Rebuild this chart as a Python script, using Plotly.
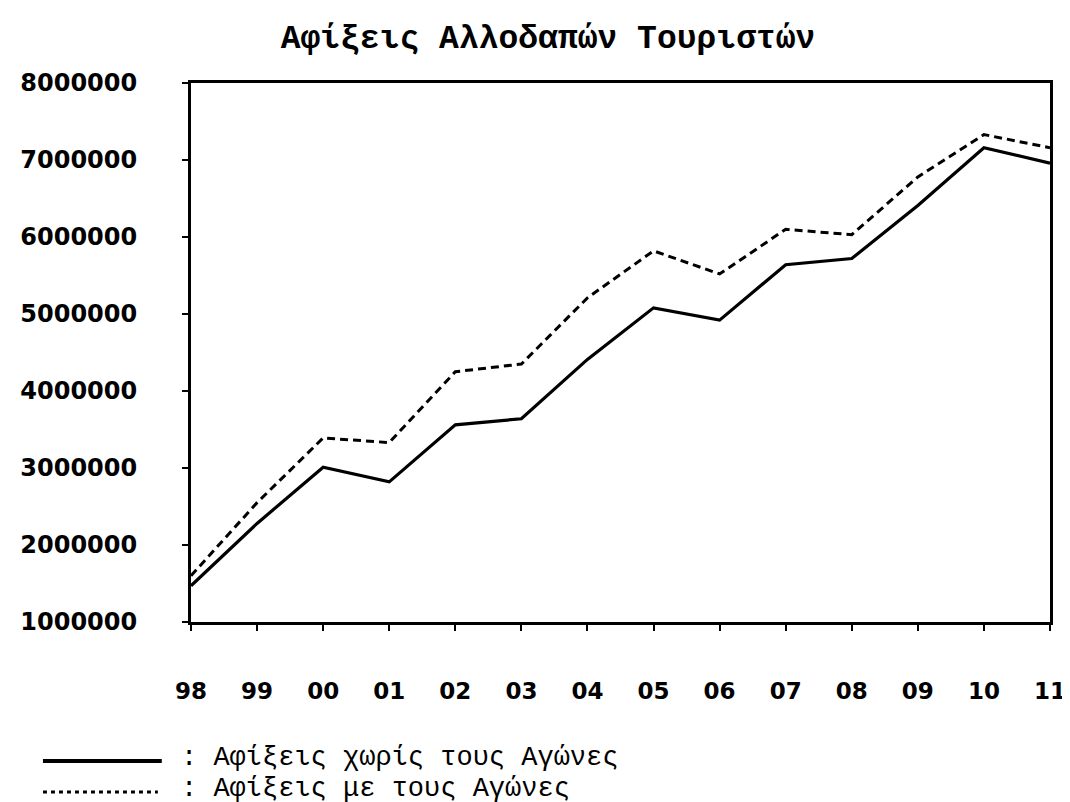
import plotly.graph_objects as go

# ---- data ----
years = ["98", "99", "00", "01", "02", "03", "04", "05", "06", "07", "08", "09", "10", "11"]
without_games = [1470000, 2280000, 3010000, 2820000, 3560000, 3640000, 4410000,
                 5080000, 4920000, 5640000, 5720000, 6410000, 7160000, 6960000]
with_games = [1600000, 2550000, 3390000, 3330000, 4250000, 4350000, 5210000,
              5820000, 5520000, 6100000, 6030000, 6780000, 7330000, 7160000]
y_ticks = [1000000, 2000000, 3000000, 4000000, 5000000, 6000000, 7000000, 8000000]
title_text = "Αφίξεις Αλλοδαπών Τουριστών"
legend_labels = [": Αφίξεις χωρίς τους Αγώνες", ": Αφίξεις με τους Αγώνες"]

W, H = 1070, 802
L, R, T, B = 176, 12, 75, 188
pw, ph = W - L - R, H - T - B

def px_x(x):
    return (x - L) / pw

def px_y(y):
    return (H - B - y) / ph

fig = go.Figure()
fig.add_trace(go.Scatter(x=years, y=without_games, mode="lines",
                         line=dict(color="black", width=3.2), showlegend=False))
fig.add_trace(go.Scatter(x=years, y=with_games, mode="lines",
                         line=dict(color="black", width=3, dash="8px,5px"), showlegend=False))

mono = "Liberation Mono, DejaVu Sans Mono, monospace"
sans_b = "DejaVu Sans, Arial, sans-serif"

fig.update_layout(
    width=W, height=H,
    margin=dict(l=L, r=R, t=T, b=B),
    paper_bgcolor="white", plot_bgcolor="white",
    title=dict(text="<b>" + title_text + "</b>", x=540 / W, xref="container", xanchor="center",
               y=1 - 28 / H, yref="container", yanchor="middle",
               font=dict(family=mono, size=33, color="black")),
    xaxis=dict(type="category", range=[0, len(years) - 1],
               showline=True, linecolor="black", linewidth=3, mirror=True,
               ticks="outside", ticklen=6, tickwidth=2, tickcolor="black",
               showgrid=False, zeroline=False,
               ticklabelstandoff=40,
               tickfont=dict(family=sans_b, size=23, color="black", weight="bold")),
    yaxis=dict(range=[1000000, 8000000], tickvals=y_ticks,
               ticktext=[str(v) for v in y_ticks],
               showline=True, linecolor="black", linewidth=3, mirror=True,
               ticks="outside", ticklen=6, tickwidth=2, tickcolor="black",
               showgrid=False, zeroline=False,
               ticklabelstandoff=40,
               tickfont=dict(family=sans_b, size=24, color="black", weight="bold")),
    showlegend=False,
)

# custom legend
fig.add_shape(type="line", xref="paper", yref="paper",
              x0=px_x(24), x1=px_x(146), y0=px_y(753), y1=px_y(753),
              line=dict(color="black", width=4))
fig.add_shape(type="line", xref="paper", yref="paper",
              x0=px_x(24), x1=px_x(142), y0=px_y(784), y1=px_y(784),
              line=dict(color="black", width=3, dash="4px,4px"))
for lbl, yy in zip(legend_labels, [750, 781]):
    fig.add_annotation(text=lbl, xref="paper", yref="paper",
                       x=px_x(164), y=px_y(yy), xanchor="left", yanchor="middle",
                       showarrow=False, font=dict(family=mono, size=27, color="black"))

fig.write_html("out.html")
